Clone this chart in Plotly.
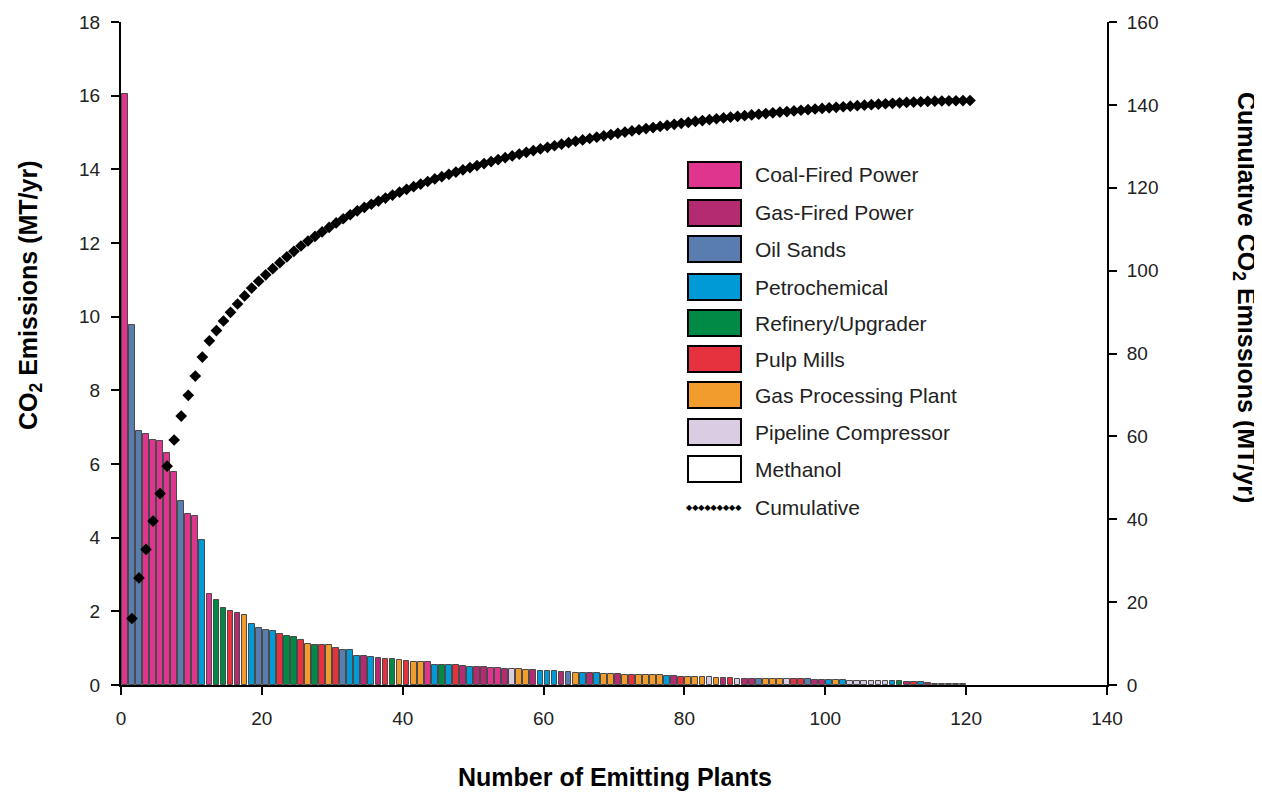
import numpy as np
import plotly.graph_objects as go

# ---- data ----
category_names = ["Coal-Fired Power", "Gas-Fired Power", "Oil Sands", "Petrochemical",
                  "Refinery/Upgrader", "Pulp Mills", "Gas Processing Plant",
                  "Pipeline Compressor", "Methanol"]
category_colors = ["#E0358F", "#B52B72", "#5A7DB0", "#009BD6", "#008A45",
                   "#E6323F", "#F29C2E", "#D9CCE3", "#FFFFFF"]

plant_category = [
    "coal", "oil", "oil", "coal", "coal", "coal", "coal", "coal", "oil", "coal",
    "coal", "petro", "coal", "ref", "ref", "pulp", "gf", "gp", "petro", "oil",
    "oil", "petro", "pulp", "ref", "ref", "pulp", "gp", "ref", "pulp", "gp",
    "pulp", "oil", "petro", "petro", "gf", "petro", "gf", "pulp", "ref", "gp",
    "pulp", "gp", "gp", "coal", "petro", "ref", "petro", "pulp", "gf", "petro",
    "gf", "gf", "coal", "coal", "gf", "pipe", "gp", "gp", "gf", "petro",
    "petro", "petro", "gf", "oil", "gp", "petro", "gf", "petro", "gp", "gp",
    "gf", "gp", "pulp", "gp", "gp", "gp", "gp", "petro", "gf", "pulp",
    "gp", "gp", "gp", "pipe", "gp", "gf", "pulp", "pipe", "gf", "gf",
    "oil", "gp", "gp", "gp", "pipe", "pulp", "pulp", "oil", "gf", "gf",
    "petro", "gp", "petro", "pipe", "pipe", "pipe", "pipe", "pipe", "pipe", "petro",
    "ref", "gf", "pulp", "petro", "gf", "meth", "meth", "meth", "meth", "meth",
]

emissions = [
    16.05, 9.78, 6.90, 6.82, 6.65, 6.62, 6.30, 5.78, 5.00, 4.65,
    4.58, 3.93, 2.48, 2.30, 2.10, 2.00, 1.95, 1.90, 1.65, 1.55,
    1.48, 1.46, 1.39, 1.33, 1.29, 1.21, 1.11, 1.09, 1.08, 1.08,
    1.01, 0.96, 0.96, 0.80, 0.78, 0.76, 0.74, 0.71, 0.70, 0.68,
    0.64, 0.63, 0.63, 0.62, 0.55, 0.55, 0.55, 0.55, 0.52, 0.49,
    0.49, 0.49, 0.47, 0.46, 0.44, 0.43, 0.43, 0.42, 0.40, 0.39,
    0.38, 0.37, 0.36, 0.35, 0.33, 0.33, 0.32, 0.32, 0.31, 0.31,
    0.30, 0.28, 0.28, 0.27, 0.26, 0.26, 0.26, 0.25, 0.24, 0.23,
    0.23, 0.22, 0.22, 0.21, 0.20, 0.20, 0.18, 0.17, 0.17, 0.17,
    0.17, 0.16, 0.16, 0.16, 0.16, 0.15, 0.15, 0.15, 0.14, 0.14,
    0.14, 0.13, 0.13, 0.12, 0.12, 0.12, 0.12, 0.11, 0.11, 0.11,
    0.10, 0.09, 0.08, 0.07, 0.06, 0.04, 0.04, 0.03, 0.03, 0.03,
]

code_map = {"coal": 0, "gf": 1, "oil": 2, "petro": 3, "ref": 4, "pulp": 5,
            "gp": 6, "pipe": 7, "meth": 8}

ticks_left = list(range(0, 19, 2))
ticks_right = list(range(0, 161, 20))
ticks_bottom = list(range(0, 141, 20))

# ---- derived ----
n = len(emissions)
plant_no = np.arange(1, n + 1)
bar_colors = [category_colors[code_map[c]] for c in plant_category]
cumulative = np.cumsum(emissions)

FONT = "Liberation Sans, Arial, sans-serif"
TITLE_FONT = dict(family=FONT, size=25, color="black")

fig = go.Figure()
fig.add_trace(go.Bar(
    x=plant_no - 0.45, y=emissions, width=0.82,
    marker=dict(color=bar_colors, line=dict(color="#4a4a4a", width=1)),
    showlegend=False, yaxis="y",
))
fig.add_trace(go.Scatter(
    x=plant_no + 0.55, y=cumulative, mode="markers",
    marker=dict(symbol="diamond", size=9, color="black"),
    showlegend=False, yaxis="y2",
))

axis_common = dict(showgrid=False, zeroline=False, showline=True, linecolor="black",
                   linewidth=2, ticks="outside", ticklen=8, tickwidth=2, automargin=False,
                   tickcolor="black", tickfont=dict(family=FONT, size=19, color="#222"))

fig.update_layout(
    width=1262, height=794,
    margin=dict(l=113, r=163, t=14, b=117),
    paper_bgcolor="white", plot_bgcolor="white",
    bargap=0,
    xaxis=dict(range=[0, 140], tickvals=ticks_bottom, ticklabelstandoff=7, **axis_common),
    yaxis=dict(range=[0, 18], tickvals=ticks_left, ticklabelstandoff=7, **axis_common),
    yaxis2=dict(range=[0, 160], tickvals=ticks_right, overlaying="y", side="right",
                ticklabelstandoff=6, **axis_common),
)

# custom legend / titles (positions in screen pixels of the reference, converted to paper)
row_px = [175, 213, 249, 287, 323, 359, 395, 432, 469]
plot_h, plot_left, plot_w = 663, 121, 986
def py(p):
    return (685 - p) / plot_h
def px(p):
    return (p - plot_left) / plot_w

fig.add_annotation(xref="paper", yref="paper", x=px(30), y=py(295),
                   text="<b>CO<sub>2</sub> Emissions (MT/yr)</b>",
                   textangle=-90, showarrow=False, xanchor="center", yanchor="middle",
                   font=TITLE_FONT)
fig.add_annotation(xref="paper", yref="paper", x=px(1245), y=py(297),
                   text="<b>Cumulative CO<sub>2</sub> Emissions (MT/yr)</b>",
                   textangle=90, showarrow=False, xanchor="center", yanchor="middle",
                   font=TITLE_FONT)
fig.add_annotation(xref="paper", yref="paper", x=px(615), y=py(777),
                   text="<b>Number of Emitting Plants</b>",
                   showarrow=False, xanchor="center", yanchor="middle",
                   font=TITLE_FONT)

for name, col, yc in zip(category_names, category_colors, row_px):
    fig.add_shape(type="rect", xref="paper", yref="paper",
                  x0=px(688), x1=px(741), y0=py(yc + 13), y1=py(yc - 13),
                  fillcolor=col, line=dict(color="black", width=2))
    fig.add_annotation(xref="paper", yref="paper", x=px(753), y=py(yc),
                       xanchor="left", yanchor="middle", text=name, showarrow=False,
                       font=dict(family=FONT, size=21, color="#222"))
fig.add_annotation(xref="paper", yref="paper", x=px(684), y=py(507),
                   xanchor="left", yanchor="middle", text="◆" * 9, showarrow=False,
                   font=dict(family="DejaVu Sans", size=8, color="black"))
fig.add_annotation(xref="paper", yref="paper", x=px(753), y=py(507),
                   xanchor="left", yanchor="middle", text="Cumulative", showarrow=False,
                   font=dict(family=FONT, size=21, color="#222"))

fig.write_html("out.html")
